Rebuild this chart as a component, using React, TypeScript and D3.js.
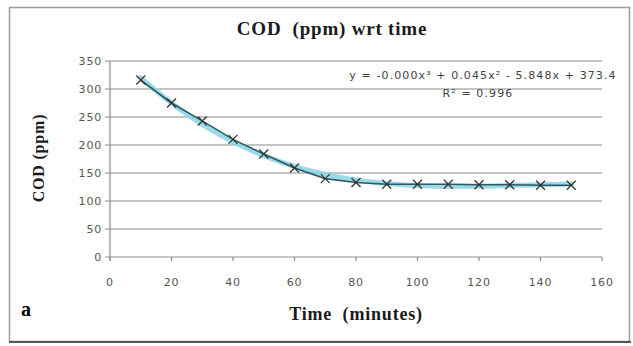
import React from "react";
import * as d3 from "d3";

const timeMin = [10, 20, 30, 40, 50, 60, 70, 80, 90, 100, 110, 120, 130, 140, 150];
const codPpm = [316, 275, 243, 210, 184, 159, 140, 133, 130, 130, 130, 129, 129, 128, 128];
const xTicks = [0, 20, 40, 60, 80, 100, 120, 140, 160];
const yTicks = [0, 50, 100, 150, 200, 250, 300, 350];
const titleText = "COD  (ppm) wrt time";
const xLabel = "Time  (minutes)";
const yLabel = "COD (ppm)";
const eqText = "y = -0.000x³ + 0.045x² - 5.848x + 373.4";
const r2Text = "R² = 0.996";
const panelLabel = "a";

// least-squares cubic fit (as the spreadsheet trendline)
function polyFit(xs: number[], ys: number[], deg: number): number[] {
  const n = deg + 1;
  const A: number[][] = Array.from({ length: n }, () => new Array(n + 1).fill(0));
  for (let r = 0; r < n; r++) {
    for (let c = 0; c < n; c++) {
      A[r][c] = d3.sum(xs, (x) => Math.pow(x, r + c));
    }
    A[r][n] = d3.sum(xs, (x, i) => Math.pow(x, r) * ys[i]);
  }
  for (let i = 0; i < n; i++) {
    let p = i;
    for (let k = i + 1; k < n; k++) if (Math.abs(A[k][i]) > Math.abs(A[p][i])) p = k;
    [A[i], A[p]] = [A[p], A[i]];
    for (let k = i + 1; k < n; k++) {
      const f = A[k][i] / A[i][i];
      for (let j = i; j <= n; j++) A[k][j] -= f * A[i][j];
    }
  }
  const c = new Array(n).fill(0);
  for (let i = n - 1; i >= 0; i--) {
    let s = A[i][n];
    for (let j = i + 1; j < n; j++) s -= A[i][j] * c[j];
    c[i] = s / A[i][i];
  }
  return c;
}

export default function App() {
  const W = 633, H = 346;
  const x = d3.scaleLinear().domain([0, 160]).range([110, 602]);
  const y = d3.scaleLinear().domain([0, 350]).range([257, 61]);
  const coef = polyFit(timeMin, codPpm, 3);
  const fitX = d3.range(timeMin[0], timeMin[timeMin.length - 1] + 0.01, 1);
  const fitPts: [number, number][] = fitX.map((t) => [t, coef[0] + coef[1] * t + coef[2] * t * t + coef[3] * t * t * t]);
  const line = d3.line<[number, number]>().x((d) => x(d[0])).y((d) => y(d[1]));
  const dataPts: [number, number][] = timeMin.map((t, i) => [t, codPpm[i]]);
  const serif = "'Liberation Serif', 'DejaVu Serif', serif";
  const sans = "'DejaVu Sans', 'Liberation Sans', sans-serif";
  const m = 4.5;
  const pre = { whiteSpace: "pre" as const };
  return (
    <svg width={W} height={H} style={{ position: "absolute", left: 0, top: 0 }}>
      <rect x={0} y={0} width={W} height={H} fill="#fff" />
      <rect x={9.5} y={7.5} width={620} height={334} fill="#fff" stroke="#9a9a9a" strokeWidth={1.5} />
      <line x1={9} x2={631} y1={342} y2={342} stroke="#555" strokeWidth={2} />
      <text x={332} y={35} textAnchor="middle" fontFamily={serif} fontWeight="bold" fontSize={19} letterSpacing={0.8} fill="#1a1a1a" style={pre}>{titleText}</text>
      {yTicks.map((v) => (
        <g key={"y" + v}>
          <line x1={105} x2={x(160)} y1={y(v)} y2={y(v)} stroke="#8c8c8c" strokeWidth={1.2} />
          <text x={102} y={y(v) + 4} textAnchor="end" fontFamily={sans} fontSize={11} letterSpacing={0.8} fill="#555">{v}</text>
        </g>
      ))}
      <line x1={x(0)} x2={x(0)} y1={y(350)} y2={y(0) + 4} stroke="#8c8c8c" strokeWidth={1.2} />
      {xTicks.map((v) => (
        <g key={"x" + v}>
          <line x1={x(v)} x2={x(v)} y1={y(0)} y2={y(0) + 4} stroke="#8c8c8c" strokeWidth={1.2} />
          <text x={x(v)} y={y(0) + 29} textAnchor="middle" fontFamily={sans} fontSize={11} letterSpacing={0.8} fill="#555">{v}</text>
        </g>
      ))}
      <path d={line(fitPts) || ""} fill="none" stroke="#8ad4e4" strokeWidth={5} strokeLinecap="round" opacity={0.85} />
      <path d={line(dataPts) || ""} fill="none" stroke="#2e5a63" strokeWidth={1.6} />
      {dataPts.map((d, i) => (
        <g key={"m" + i} stroke="#333" strokeWidth={1.3}>
          <line x1={x(d[0]) - m} x2={x(d[0]) + m} y1={y(d[1]) - m} y2={y(d[1]) + m} />
          <line x1={x(d[0]) - m} x2={x(d[0]) + m} y1={y(d[1]) + m} y2={y(d[1]) - m} />
        </g>
      ))}
      <text x={483} y={79} textAnchor="middle" fontFamily={sans} fontSize={11} letterSpacing={1.1} fill="#444">{eqText}</text>
      <text x={478} y={97} textAnchor="middle" fontFamily={sans} fontSize={11} letterSpacing={1.1} fill="#444">{r2Text}</text>
      <text transform={`translate(44,158) rotate(-90)`} textAnchor="middle" fontFamily={serif} fontWeight="bold" fontSize={16} letterSpacing={0.8} fill="#1a1a1a">{yLabel}</text>
      <text x={356} y={320} textAnchor="middle" fontFamily={serif} fontWeight="bold" fontSize={18} letterSpacing={0.8} fill="#1a1a1a" style={pre}>{xLabel}</text>
      <text x={21} y={316} fontFamily={serif} fontWeight="bold" fontSize={20} fill="#000">{panelLabel}</text>
    </svg>
  );
}
